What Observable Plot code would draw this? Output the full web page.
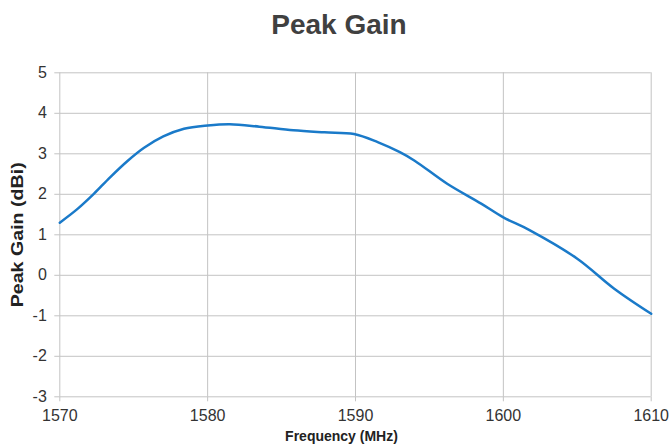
<!DOCTYPE html>
<html>
<head>
<meta charset="utf-8">
<script src="https://cdn.jsdelivr.net/npm/d3@7"></script>
<script src="https://cdn.jsdelivr.net/npm/@observablehq/plot@0.6"></script>
<style>
  html, body { margin: 0; padding: 0; background: #fff; }
  #title { height: 55px; line-height: 50px; text-align: center; padding-left: 8px; box-sizing: border-box;
    font-family: "Liberation Sans", Arial, sans-serif; font-weight: bold; font-size: 28px; color: #404040; width: 670px; }
</style>
</head>
<body>
<div id="title">Peak Gain</div>
<div id="chart"></div>
<script>
const freq = [1570, 1571.2, 1572.3, 1573.4, 1574.6, 1575.7, 1577, 1578.4, 1580, 1581.5, 1583.5, 1585.8, 1587.9, 1589.9, 1591.5, 1593, 1594, 1596.2, 1598.5, 1600, 1601.8, 1605, 1607.5, 1610];
const gain = [1.30, 1.64, 2.01, 2.42, 2.83, 3.15, 3.43, 3.62, 3.70, 3.73, 3.67, 3.58, 3.53, 3.49, 3.29, 3.04, 2.83, 2.26, 1.77, 1.43, 1.11, 0.41, -0.33, -0.95];
const xTicks = [1570, 1580, 1590, 1600, 1610];
const yTicks = [-3, -2, -1, 0, 1, 2, 3, 4, 5];
const xLabel = "Frequency (MHz)";
const yLabel = "Peak Gain (dBi)";

const data = freq.map((f, i) => ({f, g: gain[i]}));
const gridColor = "#c3c3c3";
const font = "'Liberation Sans', Arial, sans-serif";
const fmt = d => String(d);

const svg = Plot.plot({
  width: 670,
  height: 390,
  marginLeft: 59.3,
  marginRight: 19.3,
  marginTop: 17.3,
  marginBottom: 48.7,
  style: {fontFamily: font, background: "#fff"},
  x: {domain: [1570, 1610]},
  y: {domain: [-3, 5]},
  marks: [
    Plot.gridX(xTicks, {stroke: gridColor, strokeOpacity: 1, strokeWidth: 1}),
    Plot.gridY(yTicks, {stroke: gridColor, strokeOpacity: 1, strokeWidth: 1}),
    Plot.axisX(xTicks, {tickSize: 5, tickPadding: 8, stroke: gridColor, fill: "#333", fontSize: 16, label: null, tickFormat: fmt}),
    Plot.axisY(yTicks, {tickSize: 5, tickPadding: 8, stroke: gridColor, fill: "#333", fontSize: 16, label: null, tickFormat: fmt}),
    Plot.line(data, {x: "f", y: "g", stroke: "#1a7ac9", strokeWidth: 2.5, curve: "catmull-rom"}),
    Plot.text([xLabel], {frameAnchor: "bottom", dy: 39.7, dx: -14, lineAnchor: "middle", fontSize: 14, fontWeight: "bold", fill: "#222"}),
    Plot.text([yLabel], {frameAnchor: "left", dx: -41.8, rotate: -90, lineAnchor: "middle", textAnchor: "middle", fontSize: 17, fontWeight: "bold", fill: "#222"})
  ]
});
d3.select(svg).selectAll("text").filter(function() { return this.textContent === yLabel; })
  .attr("textLength", 145).attr("lengthAdjust", "spacingAndGlyphs");
document.getElementById("chart").appendChild(svg);
</script>
</body>
</html>
